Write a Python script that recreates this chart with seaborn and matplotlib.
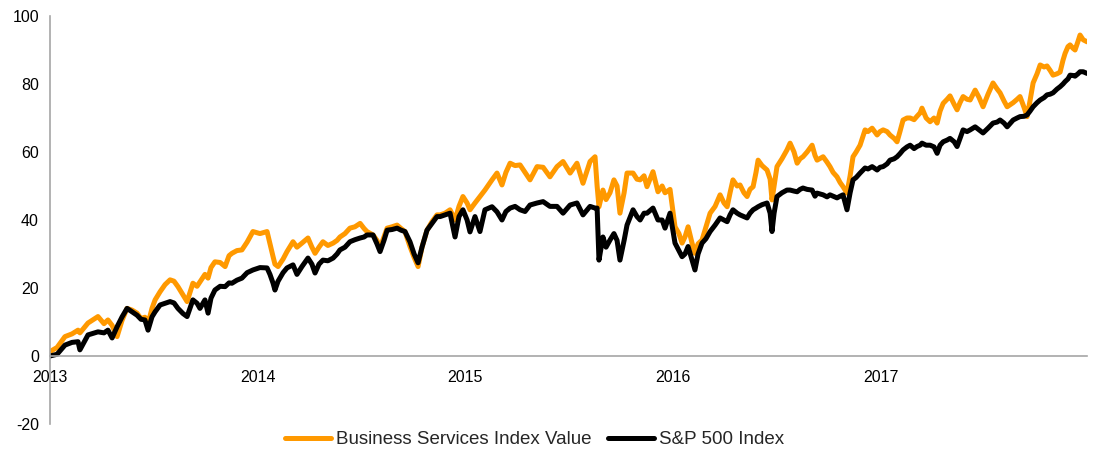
import pandas as pd
import seaborn as sns
import matplotlib.pyplot as plt

# decimal year of each reading
year = [
    2013.000, 2013.034, 2013.072, 2013.106, 2013.135, 2013.144, 2013.183, 2013.231, 2013.260, 2013.279,
    2013.299, 2013.323, 2013.347, 2013.371, 2013.395, 2013.419, 2013.438, 2013.457, 2013.472, 2013.491,
    2013.506, 2013.530, 2013.554, 2013.578, 2013.597, 2013.616, 2013.640, 2013.660, 2013.688, 2013.708,
    2013.722, 2013.746, 2013.761, 2013.775, 2013.794, 2013.819, 2013.843, 2013.862, 2013.876, 2013.900,
    2013.924, 2013.949, 2013.977, 2014.011, 2014.045, 2014.059, 2014.074, 2014.083, 2014.098, 2014.122,
    2014.141, 2014.170, 2014.189, 2014.213, 2014.242, 2014.261, 2014.276, 2014.295, 2014.314, 2014.338,
    2014.363, 2014.382, 2014.396, 2014.420, 2014.444, 2014.468, 2014.493, 2014.512, 2014.526, 2014.555,
    2014.574, 2014.589, 2014.608, 2014.623, 2014.647, 2014.671, 2014.690, 2014.709, 2014.733, 2014.753,
    2014.772, 2014.791, 2014.815, 2014.839, 2014.863, 2014.878, 2014.902, 2014.926, 2014.950, 2014.969,
    2014.988, 2015.008, 2015.022, 2015.046, 2015.070, 2015.094, 2015.128, 2015.152, 2015.176, 2015.195,
    2015.215, 2015.239, 2015.263, 2015.287, 2015.311, 2015.345, 2015.374, 2015.407, 2015.441, 2015.470,
    2015.504, 2015.537, 2015.566, 2015.600, 2015.624, 2015.634, 2015.643, 2015.662, 2015.677, 2015.696,
    2015.715, 2015.730, 2015.744, 2015.764, 2015.778, 2015.807, 2015.826, 2015.841, 2015.860, 2015.874,
    2015.903, 2015.927, 2015.947, 2015.961, 2015.985, 2016.009, 2016.028, 2016.043, 2016.057, 2016.072,
    2016.091, 2016.105, 2016.120, 2016.139, 2016.158, 2016.178, 2016.202, 2016.226, 2016.245, 2016.260,
    2016.274, 2016.288, 2016.308, 2016.322, 2016.341, 2016.356, 2016.370, 2016.385, 2016.399, 2016.409,
    2016.428, 2016.452, 2016.467, 2016.476, 2016.486, 2016.500, 2016.524, 2016.548, 2016.563, 2016.582,
    2016.597, 2016.611, 2016.625, 2016.645, 2016.669, 2016.683, 2016.693, 2016.722, 2016.741, 2016.755,
    2016.770, 2016.789, 2016.804, 2016.818, 2016.837, 2016.852, 2016.866, 2016.881, 2016.900, 2016.924,
    2016.938, 2016.958, 2016.982, 2016.996, 2017.011, 2017.030, 2017.044, 2017.064, 2017.078, 2017.092,
    2017.107, 2017.126, 2017.141, 2017.160, 2017.174, 2017.189, 2017.198, 2017.218, 2017.237, 2017.256,
    2017.271, 2017.285, 2017.300, 2017.319, 2017.333, 2017.353, 2017.367, 2017.381, 2017.396, 2017.415,
    2017.430, 2017.454, 2017.473, 2017.492, 2017.516, 2017.540, 2017.560, 2017.574, 2017.593, 2017.608,
    2017.637, 2017.656, 2017.670, 2017.690, 2017.704, 2017.718, 2017.733, 2017.752, 2017.767, 2017.786,
    2017.800, 2017.815, 2017.829, 2017.848, 2017.863, 2017.877, 2017.887, 2017.901, 2017.911, 2017.925,
    2017.935, 2017.949, 2017.959, 2017.974, 2017.993,
]

business = [
    1.3, 2.5, 5.7, 6.5, 7.6, 6.8, 9.7, 11.6, 9.5, 10.6,
    9.0, 5.7, 10.5, 14.0, 13.5, 12.6, 11.0, 11.4, 9.5, 14.0,
    16.5, 18.9, 21.0, 22.4, 22.0, 20.4, 18.0, 16.0, 21.4, 20.5,
    21.8, 24.0, 22.9, 26.0, 27.7, 27.5, 26.3, 29.5, 30.2, 31.0,
    31.2, 33.5, 36.6, 36.0, 36.6, 33.0, 29.2, 27.0, 26.3, 28.5,
    30.7, 33.6, 32.0, 33.2, 34.7, 32.0, 30.2, 32.0, 33.6, 32.5,
    33.2, 34.0, 35.0, 36.0, 37.6, 38.0, 39.0, 37.5, 36.6, 35.6,
    34.0, 31.8, 35.0, 37.6, 38.0, 38.5, 37.5, 36.6, 32.2, 29.0,
    26.3, 32.0, 37.0, 39.5, 41.5, 41.5, 42.0, 43.0, 40.0, 44.0,
    46.9, 45.0, 43.0, 45.0, 46.9, 48.8, 51.8, 53.8, 50.3, 54.0,
    56.7, 56.0, 56.2, 54.0, 51.8, 55.7, 55.5, 52.7, 55.7, 57.2,
    53.8, 56.7, 50.8, 57.2, 58.6, 50.0, 43.9, 48.8, 46.0, 48.0,
    51.8, 50.0, 42.0, 48.0, 53.8, 53.8, 52.0, 51.8, 53.0, 49.8,
    54.2, 48.3, 50.0, 48.0, 49.0, 38.0, 36.0, 33.2, 35.0, 38.0,
    33.2, 30.2, 33.0, 34.1, 38.0, 42.0, 44.0, 47.4, 45.0, 43.9,
    48.0, 51.8, 50.0, 50.3, 48.0, 46.9, 49.0, 49.8, 54.0, 57.6,
    56.0, 54.7, 52.0, 45.9, 50.0, 55.7, 58.0, 60.6, 62.6, 60.0,
    56.7, 58.0, 58.6, 60.0, 62.0, 59.0, 57.6, 58.6, 57.0, 55.7,
    54.0, 52.7, 51.0, 49.8, 47.9, 53.0, 58.6, 60.0, 62.0, 66.5,
    66.0, 67.0, 65.0, 66.0, 66.5, 66.0, 65.0, 64.0, 63.0, 66.0,
    69.4, 70.0, 70.0, 69.5, 70.5, 71.5, 72.9, 70.0, 68.9, 70.0,
    68.5, 72.0, 74.3, 75.5, 76.5, 74.0, 72.4, 74.5, 76.3, 75.5,
    75.3, 78.2, 76.0, 73.3, 77.0, 80.3, 78.5, 77.4, 75.0, 73.3,
    74.5, 75.5, 76.3, 73.0, 70.4, 75.0, 80.3, 83.0, 85.6, 85.0,
    85.3, 84.0, 82.6, 83.0, 83.5, 87.0, 89.0, 91.0, 91.5, 90.5,
    90.0, 92.5, 94.4, 93.0, 92.4,
]

sp500 = [
    0.0, 0.5, 3.2, 4.0, 4.2, 1.8, 6.2, 7.1, 6.8, 7.6,
    5.3, 8.6, 11.5, 14.0, 13.0, 12.0, 10.8, 10.6, 7.6, 11.5,
    13.0, 15.0, 15.5, 16.0, 15.6, 14.0, 12.5, 11.6, 16.5, 15.5,
    14.0, 16.5, 12.6, 17.0, 19.4, 20.5, 20.4, 21.5, 21.4, 22.3,
    22.9, 24.5, 25.3, 26.0, 25.9, 24.0, 21.4, 19.4, 22.0, 24.5,
    25.9, 26.8, 24.0, 26.3, 28.8, 27.0, 24.4, 27.0, 28.2, 28.0,
    28.8, 30.0, 31.2, 32.0, 33.6, 34.2, 34.7, 35.0, 35.6, 35.6,
    33.0, 30.7, 34.0, 37.0, 37.2, 37.6, 37.0, 36.6, 33.6, 30.0,
    27.4, 32.0, 37.0, 39.0, 41.0, 41.0, 41.5, 42.0, 35.0, 41.0,
    43.0, 40.0, 36.5, 41.0, 36.6, 43.0, 43.9, 42.4, 40.0, 42.5,
    43.5, 44.0, 43.0, 42.5, 44.4, 45.0, 45.4, 44.0, 44.0, 42.0,
    44.4, 45.0, 41.5, 44.0, 43.5, 43.5, 28.2, 35.0, 32.0, 34.1,
    36.0, 34.0, 28.2, 34.0, 38.5, 43.0, 41.0, 40.0, 42.0, 42.0,
    43.5, 40.0, 40.0, 37.6, 42.0, 33.2, 31.0, 29.2, 30.0, 32.2,
    28.2, 25.3, 30.0, 33.2, 34.5, 36.6, 38.5, 40.6, 40.0, 39.5,
    41.5, 43.0, 42.0, 41.5, 41.0, 40.6, 42.0, 43.0, 43.5, 43.9,
    44.5, 45.0, 42.0, 36.6, 42.0, 46.9, 48.0, 48.8, 48.8, 48.5,
    48.3, 49.0, 49.4, 49.0, 48.8, 47.0, 47.9, 47.4, 46.8, 47.4,
    47.0, 46.5, 47.0, 47.4, 43.0, 48.0, 51.8, 52.5, 53.8, 55.3,
    55.0, 55.7, 54.7, 55.5, 55.7, 56.5, 57.6, 58.0, 58.6, 59.5,
    60.6, 61.5, 62.0, 61.0, 61.6, 62.0, 62.6, 62.0, 62.0, 61.5,
    59.6, 62.0, 63.0, 63.5, 64.0, 63.0, 61.6, 64.0, 66.5, 66.0,
    66.5, 67.4, 66.5, 65.6, 67.0, 68.5, 68.8, 69.4, 68.5, 67.4,
    69.4, 70.0, 70.4, 70.5, 70.9, 72.0, 73.3, 74.5, 75.3, 76.0,
    76.8, 77.0, 77.4, 78.5, 79.2, 80.0, 80.7, 81.5, 82.6, 82.5,
    82.3, 83.0, 83.6, 83.6, 83.1,
]

series_names = ['Business Services Index Value', 'S&P 500 Index']
colors = ['#FF9900', '#000000']
year_ticks = [2013, 2014, 2015, 2016, 2017]
value_ticks = [-20, 0, 20, 40, 60, 80, 100]

df = pd.DataFrame({'year': year, series_names[0]: business, series_names[1]: sp500})
long = df.melt(id_vars='year', var_name='series', value_name='value')

sns.set_theme(style='white')
plt.rcParams['font.family'] = ['Liberation Sans', 'DejaVu Sans']
plt.rcParams['axes.unicode_minus'] = False

fig = plt.figure(figsize=(10.94, 4.49), dpi=100)
ax = fig.add_axes([0.0457, 0.0557, 0.948, 0.9087])

sns.lineplot(data=long, x='year', y='value', hue='series', hue_order=series_names,
             palette=dict(zip(series_names, colors)), estimator=None,
             linewidth=3.6, ax=ax)

ax.set_xlim(2013, 2017.993)
ax.set_ylim(-20, 100)
ax.set_xticks(year_ticks)
ax.set_xticklabels([str(y) for y in year_ticks])
ax.set_yticks(value_ticks)
ax.set_xlabel('')
ax.set_ylabel('')

for side in ['top', 'right']:
    ax.spines[side].set_visible(False)
ax.spines['bottom'].set_position(('data', 0))
ax.spines['bottom'].set_color('#A6A6A6')
ax.spines['left'].set_color('#A6A6A6')
ax.spines['bottom'].set_linewidth(1.2)
ax.spines['left'].set_linewidth(1.2)

ax.tick_params(axis='both', length=0, labelsize=11.5, colors='black')
ax.tick_params(axis='x', pad=10)
ax.tick_params(axis='y', pad=8)

ax.legend(loc='center', bbox_to_anchor=(0.4886, 0.021), bbox_transform=fig.transFigure,
          ncol=2, frameon=False, fontsize=13.5, handlelength=2.45, handletextpad=0.27,
          columnspacing=0.85, borderaxespad=0)

plt.savefig('out.png', dpi=100)
